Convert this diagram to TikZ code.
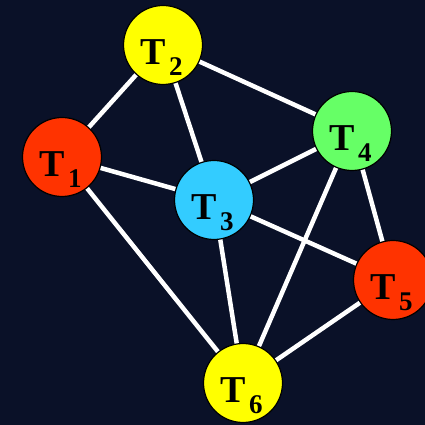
\documentclass[tikz,border=0pt]{standalone}
\usepackage{fontspec}
\setmainfont{Liberation Serif}
\definecolor{bg}{HTML}{0A1128}
\definecolor{tyellow}{HTML}{FFFF00}
\definecolor{tcyan}{HTML}{33CCFF}
\definecolor{tred}{HTML}{FF3300}
\definecolor{tgreen}{HTML}{66FF66}
\tikzset{
  task/.style={circle, draw=black, line width=1.2pt, minimum size=79pt, inner sep=0pt},
  edge/.style={draw=white, line width=4.5pt},
}
\newcommand{\tlab}[1]{{\fontsize{38}{38}\selectfont\bfseries T\kern3.5pt\raisebox{-11pt}{\fontsize{27}{27}\selectfont #1}}}
\begin{document}
\begin{tikzpicture}[x=1pt,y=1pt]
\fill[bg] (0,0) rectangle (425,425);
\useasboundingbox (0,0) rectangle (425,425);
\coordinate (t2) at (163,380);
\coordinate (t1) at (62,268);
\coordinate (t4) at (352,294);
\coordinate (t3) at (214,225);
\coordinate (t5) at (393,145);
\coordinate (t6) at (243,42);
\foreach \a/\b in {t1/t2,t2/t4,t2/t3,t1/t3,t1/t6,t3/t4,t3/t5,t3/t6,t4/t5,t4/t6,t5/t6}{
  \path[edge] (\a) -- (\b);
}
\foreach \n/\c/\k in {t2/tyellow/2,t1/tred/1,t4/tgreen/4,t3/tcyan/3,t5/tred/5,t6/tyellow/6}{
  \node[task, fill=\c] (c\n) at (\n) {};
  \node[anchor=base west, inner sep=0pt] (l\n) at ([xshift=-23pt,yshift=-20pt]\n) {\tlab{\k}};
}
\end{tikzpicture}
\end{document}
